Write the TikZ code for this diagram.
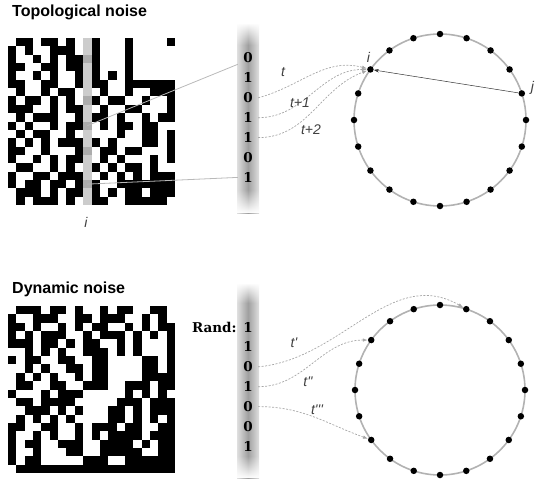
\documentclass[tikz,border=0pt]{standalone}
\usepackage{fontspec}
\setmainfont{Liberation Sans}
\newfontfamily\bitfont{DejaVu Serif}
\usetikzlibrary{arrows.meta,calc,fadings,positioning}

\newcommand{\cellw}{8.35}

\begin{document}
\begin{tikzpicture}[x=1pt, y=1pt,
	title/.style={anchor=base west, inner sep=0pt, font=\fontsize{16}{18}\selectfont\bfseries},
	bit/.style={inner sep=1pt, minimum width=20pt, font=\bitfont\bfseries\fontsize{13.5}{14}\selectfont},
	bar/.style={left color=gray!25, right color=gray!25, middle color=gray!75},
	feed/.style={gray!55, line width=0.8pt},
	ring/.style={gray!60, line width=1.6pt},
	dot/.style={circle, fill=black, minimum size=6.5pt, inner sep=0pt},
	link/.style={-{Stealth[length=5pt, width=3.5pt]}, black!80, line width=0.5pt},
	flow/.style={-{Latex[length=5pt, width=3.5pt]}, gray!70, line width=0.7pt, dash pattern=on 2pt off 1.5pt},
	lab/.style={font=\fontsize{14}{14}\selectfont\itshape, text=black!75}
]
	\useasboundingbox (0,0) rectangle (535,-482);

	\node[title] (toptitle) at (12,-16) {Topological noise};
	\node[title] (dyntitle) at (12,-293) {Dynamic noise};

	% top grid
	\foreach \r/\cols in {0/{1,2,4,5,7,10,14,19}, 1/{0,2,5,6,7,10,14}, 2/{0,3,5,7,8,10,14},
		3/{0,1,4,5,7,8,10,14}, 4/{0,3,5,8,10,12,14}, 5/{0,1,4,5,8,10,11,14,15,16,17,18,19},
		6/{1,4,6,7,11,14,17,18,19}, 7/{0,2,3,5,7,10,12,13,16,19}, 8/{0,1,2,5,7,8,11,14,15,19},
		9/{1,3,4,5,8,10,11,13,16,18,19}, 10/{0,2,5,7,8,11,13,14,16,17}, 11/{1,3,4,7,13,16,17,19},
		12/{0,2,4,6,7,8,10,12,16,17,19}, 13/{0,1,4,8,11,12,14,15,19}, 14/{0,3,5,7,8,11,13,17,19},
		15/{1,2,5,7,10,12,14,15,17}, 16/{0,3,4,6,7,8,11,13,15,17,18,19}, 17/{0,2,3,5,6,8,10,13,14,15,16,17,18,19},
		18/{1,2,3,5,7,8,10,12,14,15,17,18,19}, 19/{1,3,4,5,7,10,11,14,15,16,17,18}} {
		\foreach \c in \cols
			\fill (8+\c*\cellw, -38-\r*\cellw) rectangle ++(\cellw,-\cellw);
	}
	\fill[gray!40] (8+9*\cellw,-38) rectangle ++(\cellw,-20*\cellw);
	\foreach \r in {2,7,10,13,17}
		\fill[gray!65] (8+9*\cellw, -38-\r*\cellw) rectangle ++(\cellw,-\cellw);

	% bottom grid
	\foreach \r/\cols in {0/{1,2,3,5,6,8,11,13,14,17,18}, 1/{0,3,4,5,8,9,11,12,13,16,18}, 2/{0,1,3,6,8,10,11,14,16,18,19},
		3/{0,2,4,5,6,9,11,12,13,15,17,19}, 4/{0,1,2,4,5,7,9,10,13,15,19}, 5/{2,4,6,9,10,11,13,15,19},
		6/{0,2,3,6,7,10,11,16,17,19}, 7/{2,4,7,8,10,11,16,17,19}, 8/{1,3,5,8,10,11,16,17,18,19},
		9/{1,2,5,6,9,10,11,14,15,16,18,19}, 10/{0,4,6,7,8,14,16,18}, 11/{1,2,4,5,6,7,13,14,15,17,18,19},
		12/{2,3,4,6,8,12,13,15,17,18,19}, 13/{1,3,5,7,12,13,15,17,19}, 14/{0,1,4,5,8,10,11,12,14,15,18,19},
		15/{0,3,5,8,10,12,13,14,15,17,18,19}, 16/{0,2,3,6,7,8,11,12,13,14,16,18,19}, 17/{0,3,7,8,11,12,13,14,15,18,19},
		18/{0,2,3,9,10,11,14,15,16,17,18,19}, 19/{1,...,19}} {
		\foreach \c in \cols
			\fill (8+\c*\cellw, -306-\r*\cellw) rectangle ++(\cellw,-\cellw);
	}

	% bit columns
	\shade[bar] (237,-23) rectangle (259,-213);
	\fill[white, path fading=south] (236,-23) rectangle (260,-45);
	\fill[white, path fading=north] (236,-190) rectangle (260,-213);
	\shade[bar] (237,-283) rectangle (259,-478);
	\fill[white, path fading=south] (236,-283) rectangle (260,-303);
	\fill[white, path fading=north] (236,-456) rectangle (260,-478);

	\foreach \d [count=\k from 0] in {0,1,0,1,1,0,1}
		\node[bit] (u\k) at (248,-58-19.9*\k) {\d};
	\foreach \d [count=\k from 0] in {1,1,0,1,0,0,1}
		\node[bit] (v\k) at (248,-327-19.9*\k) {\d};
	\node[bit, minimum width=0pt, left=0pt of v0] (rand) {Rand:};

	\coordinate (pick1) at (8+9.5*\cellw, -38-10.5*\cellw);
	\coordinate (pick2) at (8+9.5*\cellw, -38-17.5*\cellw);
	\draw[feed] (pick1) -- (u0.south west);
	\draw[feed] (pick2) -- (u6.west);
	\node[lab] (glab) at (86,-222) {i};

	% rings
	\coordinate (ca) at (440,-120);
	\coordinate (cb) at (440,-390);
	\draw[ring] (ca) circle (86);
	\draw[ring] (cb) circle (85);
	\foreach \k in {0,...,19} {
		\node[dot] (a\k) at ($(ca)+(90+18*\k:86)$) {};
		\node[dot] (b\k) at ($(cb)+(90+18*\k:85)$) {};
	}

	\draw[link] (a16) -- (a3);
	\node[lab, above=0pt of a3, xshift=-2pt] (ilab) {i};
	\node[lab, right=2pt of a16, yshift=6pt] (jlab) {j};

	% time steps
	\draw[flow] (u2.east) to[out=15, in=165] (a3);
	\draw[flow] (u3.east) to[out=0, in=180] (a3);
	\draw[flow] (u4.east) to[out=0, in=200] (a3);
	\node[lab] (t0) at (283,-72) {t};
	\node[lab] (t1) at (300,-103) {t+1};
	\node[lab] (t2) at (311,-130) {t+2};

	\draw[flow] (v2.east) to[out=5, in=150] (b19);
	\draw[flow] (v3.east) to[out=0, in=180] (b3);
	\draw[flow] (v4.east) to[out=0, in=160] (b7);
	\node[lab] (s0) at (294,-343) {t\textquotesingle};
	\node[lab] (s1) at (308,-382) {t\textquotesingle\textquotesingle};
	\node[lab] (s2) at (317,-410) {t\textquotesingle\textquotesingle\textquotesingle};
\end{tikzpicture}
\end{document}
